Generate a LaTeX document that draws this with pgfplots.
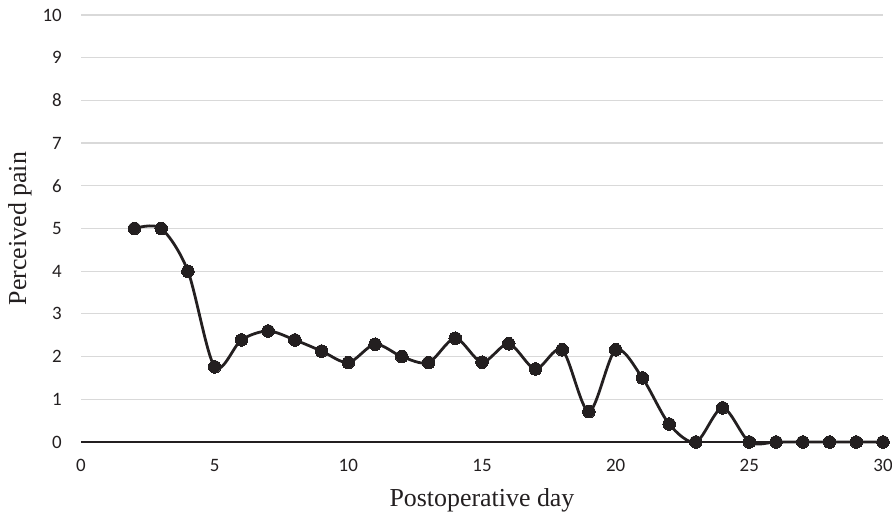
\documentclass[border=0pt]{standalone}
\usepackage{pgfplots}
\pgfplotsset{compat=1.18}
\usepackage{fontspec}
\setmainfont{Liberation Serif}
\newfontfamily\carlito{Carlito}
\definecolor{linec}{HTML}{231F20}
\definecolor{gridc}{HTML}{D9D9D9}
\begin{document}
\begin{tikzpicture}
\begin{axis}[
  at={(0,0)}, anchor=south west,
  scale only axis,
  width=802bp, height=427bp,
  xmin=0, xmax=30, ymin=0, ymax=10,
  xtick={0,5,...,30}, ytick={0,1,...,10},
  axis lines=left,
  axis line style={-},
  y axis line style={draw=none},
  x axis line style={draw=linec, line width=1.2bp},
  major tick length=0pt,
  ymajorgrids,
  grid style={draw=gridc, line width=1.2bp},
  /pgf/number format/assume math mode=true,
  tick label style={font=\carlito\fontsize{19}{19}\selectfont, inner sep=0pt, text=linec},
  xticklabel style={anchor=center, yshift=-23bp},
  yticklabel style={anchor=east, xshift=-19bp},
  xlabel={Postoperative day},
  ylabel={Perceived pain},
  label style={font=\fontsize{26}{26}\selectfont, text=linec},
  xlabel style={at={(axis description cs:0.5,-0.1358)}, anchor=center},
  ylabel style={at={(axis description cs:-0.0761,0.5)}, anchor=center},
  clip=false,
]
\addplot[color=linec, line width=2.8bp, smooth, tension=0.5, mark=*, mark size=6.3bp, mark options={fill=linec, draw=linec, line width=0pt}]
coordinates {
(2,5) (3,5) (4,4) (5,1.76) (6,2.39) (7,2.6) (8,2.39) (9,2.13) (10,1.86)
(11,2.29) (12,2.0) (13,1.86) (14,2.43) (15,1.87) (16,2.3) (17,1.71) (18,2.16)
(19,0.71) (20,2.16) (21,1.5) (22,0.42) (23,0) (24,0.8) (25,0) (26,0) (27,0)
(28,0) (29,0) (30,0)
};
\end{axis}
\pgfresetboundingbox
\path (-81bp,-75bp) rectangle (811bp,442bp);
\end{tikzpicture}
\end{document}
